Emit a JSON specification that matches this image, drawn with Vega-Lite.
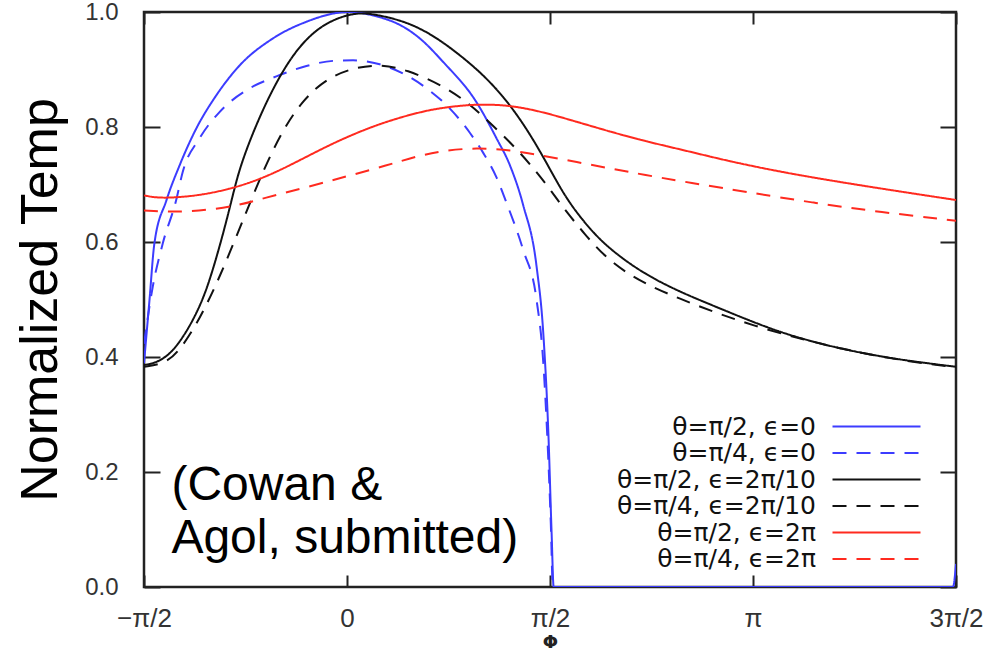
{
  "$schema": "https://vega.github.io/schema/vega-lite/v6.json",
  "width": 812,
  "height": 575,
  "autosize": {"type": "none"},
  "padding": {"left": 144, "top": 12, "right": 34, "bottom": 70},
  "background": "white",
  "config": {
    "view": {"stroke": "#222", "strokeWidth": 2.5},
    "axis": {"domain": false, "ticks": false, "grid": true, "gridColor": "#222", "gridWidth": 2, "gridOpacity": 1, "labelColor": "#333", "labelFont": "Liberation Sans", "labelFontSize": 24},
    "legend": {
      "orient": "none", "legendX": 720, "legendY": 402, "title": null, "padding": 0,
      "symbolType": "M-4,0H4", "symbolSize": 484, "symbolStrokeWidth": 2,
      "labelAlign": "right", "labelOffset": -73, "labelFont": "DejaVu Sans", "labelFontSize": 25, "labelColor": "#111", "labelLimit": 400,
      "rowPadding": 0.5
    }
  },
  "datasets": {
    "curves": [
      {"s": "θ=π/2, ϵ=0", "p": -0.5, "t": 0.389},
      {"s": "θ=π/2, ϵ=0", "p": -0.4865, "t": 0.499},
      {"s": "θ=π/2, ϵ=0", "p": -0.4745, "t": 0.597},
      {"s": "θ=π/2, ϵ=0", "p": -0.445, "t": 0.672},
      {"s": "θ=π/2, ϵ=0", "p": -0.4125, "t": 0.733},
      {"s": "θ=π/2, ϵ=0", "p": -0.3715, "t": 0.797},
      {"s": "θ=π/2, ϵ=0", "p": -0.322, "t": 0.855},
      {"s": "θ=π/2, ϵ=0", "p": -0.2645, "t": 0.907},
      {"s": "θ=π/2, ϵ=0", "p": -0.1825, "t": 0.954},
      {"s": "θ=π/2, ϵ=0", "p": -0.1, "t": 0.983},
      {"s": "θ=π/2, ϵ=0", "p": -0.018, "t": 0.999},
      {"s": "θ=π/2, ϵ=0", "p": 0.0065, "t": 1.0},
      {"s": "θ=π/2, ϵ=0", "p": 0.064, "t": 0.994},
      {"s": "θ=π/2, ϵ=0", "p": 0.1465, "t": 0.971},
      {"s": "θ=π/2, ϵ=0", "p": 0.1795, "t": 0.954},
      {"s": "θ=π/2, ϵ=0", "p": 0.237, "t": 0.913},
      {"s": "θ=π/2, ϵ=0", "p": 0.319, "t": 0.843},
      {"s": "θ=π/2, ϵ=0", "p": 0.3685, "t": 0.78},
      {"s": "θ=π/2, ϵ=0", "p": 0.4015, "t": 0.733},
      {"s": "θ=π/2, ϵ=0", "p": 0.434, "t": 0.664},
      {"s": "θ=π/2, ϵ=0", "p": 0.467, "t": 0.557},
      {"s": "θ=π/2, ϵ=0", "p": 0.4835, "t": 0.441},
      {"s": "θ=π/2, ϵ=0", "p": 0.496, "t": 0.267},
      {"s": "θ=π/2, ϵ=0", "p": 0.504, "t": 0.093},
      {"s": "θ=π/2, ϵ=0", "p": 0.509, "t": 0.0},
      {"s": "θ=π/2, ϵ=0", "p": 1.4925, "t": 0.0},
      {"s": "θ=π/2, ϵ=0", "p": 1.5, "t": 0.04},

      {"s": "θ=π/4, ϵ=0", "p": -0.5, "t": 0.423},
      {"s": "θ=π/4, ϵ=0", "p": -0.4785, "t": 0.522},
      {"s": "θ=π/4, ϵ=0", "p": -0.454, "t": 0.597},
      {"s": "θ=π/4, ϵ=0", "p": -0.421, "t": 0.672},
      {"s": "θ=π/4, ϵ=0", "p": -0.4045, "t": 0.722},
      {"s": "θ=π/4, ϵ=0", "p": -0.3635, "t": 0.78},
      {"s": "θ=π/4, ϵ=0", "p": -0.314, "t": 0.826},
      {"s": "θ=π/4, ϵ=0", "p": -0.24, "t": 0.867},
      {"s": "θ=π/4, ϵ=0", "p": -0.174, "t": 0.888},
      {"s": "θ=π/4, ϵ=0", "p": -0.1, "t": 0.906},
      {"s": "θ=π/4, ϵ=0", "p": -0.0345, "t": 0.915},
      {"s": "θ=π/4, ϵ=0", "p": 0.015, "t": 0.916},
      {"s": "θ=π/4, ϵ=0", "p": 0.0805, "t": 0.909},
      {"s": "θ=π/4, ϵ=0", "p": 0.1465, "t": 0.89},
      {"s": "θ=π/4, ϵ=0", "p": 0.204, "t": 0.863},
      {"s": "θ=π/4, ϵ=0", "p": 0.2535, "t": 0.832},
      {"s": "θ=π/4, ϵ=0", "p": 0.3025, "t": 0.79},
      {"s": "θ=π/4, ϵ=0", "p": 0.3355, "t": 0.755},
      {"s": "θ=π/4, ϵ=0", "p": 0.3685, "t": 0.712},
      {"s": "θ=π/4, ϵ=0", "p": 0.393, "t": 0.668},
      {"s": "θ=π/4, ϵ=0", "p": 0.434, "t": 0.586},
      {"s": "θ=π/4, ϵ=0", "p": 0.467, "t": 0.499},
      {"s": "θ=π/4, ϵ=0", "p": 0.4835, "t": 0.39},
      {"s": "θ=π/4, ϵ=0", "p": 0.493, "t": 0.267},
      {"s": "θ=π/4, ϵ=0", "p": 0.502, "t": 0.11},
      {"s": "θ=π/4, ϵ=0", "p": 0.507, "t": 0.0},
      {"s": "θ=π/4, ϵ=0", "p": 1.49, "t": 0.0},

      {"s": "θ=π/2, ϵ=2π/10", "p": -0.5, "t": 0.386},
      {"s": "θ=π/2, ϵ=2π/10", "p": -0.4745, "t": 0.389},
      {"s": "θ=π/2, ϵ=2π/10", "p": -0.4455, "t": 0.4},
      {"s": "θ=π/2, ϵ=2π/10", "p": -0.421, "t": 0.417},
      {"s": "θ=π/2, ϵ=2π/10", "p": -0.388, "t": 0.452},
      {"s": "θ=π/2, ϵ=2π/10", "p": -0.355, "t": 0.499},
      {"s": "θ=π/2, ϵ=2π/10", "p": -0.3305, "t": 0.551},
      {"s": "θ=π/2, ϵ=2π/10", "p": -0.306, "t": 0.612},
      {"s": "θ=π/2, ϵ=2π/10", "p": -0.285, "t": 0.67},
      {"s": "θ=π/2, ϵ=2π/10", "p": -0.2645, "t": 0.73},
      {"s": "θ=π/2, ϵ=2π/10", "p": -0.2235, "t": 0.805},
      {"s": "θ=π/2, ϵ=2π/10", "p": -0.1825, "t": 0.867},
      {"s": "θ=π/2, ϵ=2π/10", "p": -0.1415, "t": 0.917},
      {"s": "θ=π/2, ϵ=2π/10", "p": -0.1, "t": 0.954},
      {"s": "θ=π/2, ϵ=2π/10", "p": -0.051, "t": 0.982},
      {"s": "θ=π/2, ϵ=2π/10", "p": 0.015, "t": 0.999},
      {"s": "θ=π/2, ϵ=2π/10", "p": 0.064, "t": 0.997},
      {"s": "θ=π/2, ϵ=2π/10", "p": 0.13, "t": 0.986},
      {"s": "θ=π/2, ϵ=2π/10", "p": 0.1795, "t": 0.972},
      {"s": "θ=π/2, ϵ=2π/10", "p": 0.237, "t": 0.948},
      {"s": "θ=π/2, ϵ=2π/10", "p": 0.319, "t": 0.902},
      {"s": "θ=π/2, ϵ=2π/10", "p": 0.3685, "t": 0.866},
      {"s": "θ=π/2, ϵ=2π/10", "p": 0.4015, "t": 0.838},
      {"s": "θ=π/2, ϵ=2π/10", "p": 0.4425, "t": 0.797},
      {"s": "θ=π/2, ϵ=2π/10", "p": 0.4835, "t": 0.748},
      {"s": "θ=π/2, ϵ=2π/10", "p": 0.5165, "t": 0.705},
      {"s": "θ=π/2, ϵ=2π/10", "p": 0.5495, "t": 0.666},
      {"s": "θ=π/2, ϵ=2π/10", "p": 0.5985, "t": 0.622},
      {"s": "θ=π/2, ϵ=2π/10", "p": 0.648, "t": 0.587},
      {"s": "θ=π/2, ϵ=2π/10", "p": 0.73, "t": 0.545},
      {"s": "θ=π/2, ϵ=2π/10", "p": 0.8205, "t": 0.513},
      {"s": "θ=π/2, ϵ=2π/10", "p": 0.903, "t": 0.489},
      {"s": "θ=π/2, ϵ=2π/10", "p": 0.985, "t": 0.465},
      {"s": "θ=π/2, ϵ=2π/10", "p": 1.0675, "t": 0.443},
      {"s": "θ=π/2, ϵ=2π/10", "p": 1.1495, "t": 0.426},
      {"s": "θ=π/2, ϵ=2π/10", "p": 1.232, "t": 0.412},
      {"s": "θ=π/2, ϵ=2π/10", "p": 1.314, "t": 0.401},
      {"s": "θ=π/2, ϵ=2π/10", "p": 1.396, "t": 0.392},
      {"s": "θ=π/2, ϵ=2π/10", "p": 1.5, "t": 0.383},

      {"s": "θ=π/4, ϵ=2π/10", "p": -0.5, "t": 0.383},
      {"s": "θ=π/4, ϵ=2π/10", "p": -0.4455, "t": 0.389},
      {"s": "θ=π/4, ϵ=2π/10", "p": -0.4125, "t": 0.412},
      {"s": "θ=π/4, ϵ=2π/10", "p": -0.38, "t": 0.446},
      {"s": "θ=π/4, ϵ=2π/10", "p": -0.347, "t": 0.489},
      {"s": "θ=π/4, ϵ=2π/10", "p": -0.314, "t": 0.539},
      {"s": "θ=π/4, ϵ=2π/10", "p": -0.281, "t": 0.595},
      {"s": "θ=π/4, ϵ=2π/10", "p": -0.248, "t": 0.652},
      {"s": "θ=π/4, ϵ=2π/10", "p": -0.2275, "t": 0.688},
      {"s": "θ=π/4, ϵ=2π/10", "p": -0.199, "t": 0.735},
      {"s": "θ=π/4, ϵ=2π/10", "p": -0.158, "t": 0.795},
      {"s": "θ=π/4, ϵ=2π/10", "p": -0.1085, "t": 0.847},
      {"s": "θ=π/4, ϵ=2π/10", "p": -0.051, "t": 0.884},
      {"s": "θ=π/4, ϵ=2π/10", "p": 0.015, "t": 0.903},
      {"s": "θ=π/4, ϵ=2π/10", "p": 0.0805, "t": 0.909},
      {"s": "θ=π/4, ϵ=2π/10", "p": 0.1465, "t": 0.9},
      {"s": "θ=π/4, ϵ=2π/10", "p": 0.237, "t": 0.872},
      {"s": "θ=π/4, ϵ=2π/10", "p": 0.3025, "t": 0.84},
      {"s": "θ=π/4, ϵ=2π/10", "p": 0.36, "t": 0.802},
      {"s": "θ=π/4, ϵ=2π/10", "p": 0.418, "t": 0.762},
      {"s": "θ=π/4, ϵ=2π/10", "p": 0.467, "t": 0.722},
      {"s": "θ=π/4, ϵ=2π/10", "p": 0.508, "t": 0.684},
      {"s": "θ=π/4, ϵ=2π/10", "p": 0.5245, "t": 0.667},
      {"s": "θ=π/4, ϵ=2π/10", "p": 0.5865, "t": 0.612},
      {"s": "θ=π/4, ϵ=2π/10", "p": 0.648, "t": 0.565},
      {"s": "θ=π/4, ϵ=2π/10", "p": 0.73, "t": 0.528},
      {"s": "θ=π/4, ϵ=2π/10", "p": 0.8205, "t": 0.501},
      {"s": "θ=π/4, ϵ=2π/10", "p": 0.9195, "t": 0.474},
      {"s": "θ=π/4, ϵ=2π/10", "p": 1.026, "t": 0.449},
      {"s": "θ=π/4, ϵ=2π/10", "p": 1.133, "t": 0.429},
      {"s": "θ=π/4, ϵ=2π/10", "p": 1.232, "t": 0.412},
      {"s": "θ=π/4, ϵ=2π/10", "p": 1.355, "t": 0.395},
      {"s": "θ=π/4, ϵ=2π/10", "p": 1.5, "t": 0.382},

      {"s": "θ=π/2, ϵ=2π", "p": -0.5, "t": 0.681},
      {"s": "θ=π/2, ϵ=2π", "p": -0.47, "t": 0.677},
      {"s": "θ=π/2, ϵ=2π", "p": -0.429, "t": 0.677},
      {"s": "θ=π/2, ϵ=2π", "p": -0.3635, "t": 0.681},
      {"s": "θ=π/2, ϵ=2π", "p": -0.281, "t": 0.693},
      {"s": "θ=π/2, ϵ=2π", "p": -0.199, "t": 0.713},
      {"s": "θ=π/2, ϵ=2π", "p": -0.1165, "t": 0.742},
      {"s": "θ=π/2, ϵ=2π", "p": -0.0345, "t": 0.772},
      {"s": "θ=π/2, ϵ=2π", "p": 0.048, "t": 0.797},
      {"s": "θ=π/2, ϵ=2π", "p": 0.1135, "t": 0.813},
      {"s": "θ=π/2, ϵ=2π", "p": 0.1795, "t": 0.826},
      {"s": "θ=π/2, ϵ=2π", "p": 0.237, "t": 0.834},
      {"s": "θ=π/2, ϵ=2π", "p": 0.319, "t": 0.84},
      {"s": "θ=π/2, ϵ=2π", "p": 0.4015, "t": 0.838},
      {"s": "θ=π/2, ϵ=2π", "p": 0.4835, "t": 0.826},
      {"s": "θ=π/2, ϵ=2π", "p": 0.566, "t": 0.809},
      {"s": "θ=π/2, ϵ=2π", "p": 0.648, "t": 0.792},
      {"s": "θ=π/2, ϵ=2π", "p": 0.73, "t": 0.776},
      {"s": "θ=π/2, ϵ=2π", "p": 0.8455, "t": 0.757},
      {"s": "θ=π/2, ϵ=2π", "p": 0.944, "t": 0.74},
      {"s": "θ=π/2, ϵ=2π", "p": 1.0675, "t": 0.722},
      {"s": "θ=π/2, ϵ=2π", "p": 1.1905, "t": 0.707},
      {"s": "θ=π/2, ϵ=2π", "p": 1.314, "t": 0.693},
      {"s": "θ=π/2, ϵ=2π", "p": 1.5, "t": 0.673},

      {"s": "θ=π/4, ϵ=2π", "p": -0.5, "t": 0.655},
      {"s": "θ=π/4, ϵ=2π", "p": -0.429, "t": 0.652},
      {"s": "θ=π/4, ϵ=2π", "p": -0.347, "t": 0.655},
      {"s": "θ=π/4, ϵ=2π", "p": -0.2645, "t": 0.664},
      {"s": "θ=π/4, ϵ=2π", "p": -0.207, "t": 0.676},
      {"s": "θ=π/4, ϵ=2π", "p": -0.1, "t": 0.695},
      {"s": "θ=π/4, ϵ=2π", "p": -0.0015, "t": 0.714},
      {"s": "θ=π/4, ϵ=2π", "p": 0.097, "t": 0.733},
      {"s": "θ=π/4, ϵ=2π", "p": 0.171, "t": 0.749},
      {"s": "θ=π/4, ϵ=2π", "p": 0.237, "t": 0.759},
      {"s": "θ=π/4, ϵ=2π", "p": 0.319, "t": 0.764},
      {"s": "θ=π/4, ϵ=2π", "p": 0.4015, "t": 0.76},
      {"s": "θ=π/4, ϵ=2π", "p": 0.4835, "t": 0.75},
      {"s": "θ=π/4, ϵ=2π", "p": 0.566, "t": 0.739},
      {"s": "θ=π/4, ϵ=2π", "p": 0.648, "t": 0.728},
      {"s": "θ=π/4, ϵ=2π", "p": 0.73, "t": 0.717},
      {"s": "θ=π/4, ϵ=2π", "p": 0.8455, "t": 0.703},
      {"s": "θ=π/4, ϵ=2π", "p": 0.985, "t": 0.687},
      {"s": "θ=π/4, ϵ=2π", "p": 1.1495, "t": 0.668},
      {"s": "θ=π/4, ϵ=2π", "p": 1.314, "t": 0.652},
      {"s": "θ=π/4, ϵ=2π", "p": 1.5, "t": 0.637}
    ],
    "note": [
      {"p": -0.4325, "t": 0.151, "label": "(Cowan &\nAgol, submitted)"}
    ]
  },
  "layer": [
    {
      "data": {"name": "curves"},
      "transform": [{"filter": {"field": "s", "oneOf": ["θ=π/2, ϵ=0", "θ=π/4, ϵ=0"]}}],
      "mark": {"type": "line", "strokeWidth": 2, "interpolate": "monotone", "clip": true},
      "encoding": {
        "x": {
          "field": "p", "type": "quantitative",
          "scale": {"domain": [-0.5, 1.5], "nice": false, "zero": false},
          "axis": {
            "orient": "bottom", "values": [-0.5, 0, 0.5, 1, 1.5],
            "gridDash": [12, 551],
            "labelExpr": "datum.value == -0.5 ? '−π/2' : datum.value == 0 ? '0' : datum.value == 0.5 ? 'π/2' : datum.value == 1 ? 'π' : '3π/2'",
            "labelPadding": 18, "labelBaseline": "top", "labelFlush": false, "labelFontSize": 26,
            "title": "Φ", "titleFont": "DejaVu Sans", "titleFontSize": 18, "titleFontWeight": "bold", "titleColor": "#222", "titlePadding": 2
          }
        },
        "y": {
          "field": "t", "type": "quantitative",
          "scale": {"domain": [0, 1], "nice": false, "zero": false},
          "axis": {
            "orient": "left", "values": [0, 0.2, 0.4, 0.6, 0.8, 1], "format": ".1f",
            "gridDash": [16, 780],
            "labelPadding": 26, "labelFlush": false, "labelBaseline": "middle",
            "title": "Normalized Temp", "titleFont": "Liberation Sans", "titleFontSize": 52, "titleFontWeight": "normal", "titleColor": "#000",
            "titleAngle": -90, "titleX": -104, "titleY": 287.5, "titleAlign": "center", "titleBaseline": "middle"
          }
        },
        "color": {
          "field": "s", "type": "nominal",
          "scale": {
            "domain": ["θ=π/2, ϵ=0", "θ=π/4, ϵ=0", "θ=π/2, ϵ=2π/10", "θ=π/4, ϵ=2π/10", "θ=π/2, ϵ=2π", "θ=π/4, ϵ=2π"],
            "range": ["#3c3cff", "#3c3cff", "#111111", "#111111", "#ff2a1f", "#ff2a1f"]
          }
        },
        "strokeDash": {
          "field": "s", "type": "nominal",
          "scale": {
            "domain": ["θ=π/2, ϵ=0", "θ=π/4, ϵ=0", "θ=π/2, ϵ=2π/10", "θ=π/4, ϵ=2π/10", "θ=π/2, ϵ=2π", "θ=π/4, ϵ=2π"],
            "range": [[1, 0], [14, 10], [1, 0], [14, 10], [1, 0], [14, 10]]
          }
        }
      }
    },
    {
      "data": {"name": "curves"},
      "transform": [{"filter": {"field": "s", "oneOf": ["θ=π/2, ϵ=2π/10", "θ=π/4, ϵ=2π/10", "θ=π/2, ϵ=2π", "θ=π/4, ϵ=2π"]}}],
      "mark": {"type": "line", "strokeWidth": 2, "interpolate": "basis", "clip": true},
      "encoding": {
        "x": {"field": "p", "type": "quantitative", "axis": null},
        "y": {
          "field": "t", "type": "quantitative",
          "axis": {"orient": "left", "values": [0.05, 0.1, 0.15, 0.25, 0.3, 0.35, 0.45, 0.5, 0.55, 0.65, 0.7, 0.75, 0.85, 0.9, 0.95], "gridDash": [9, 794], "labels": false, "title": null}
        },
        "color": {"field": "s", "type": "nominal"},
        "strokeDash": {"field": "s", "type": "nominal"}
      }
    },
    {
      "data": {"name": "note"},
      "mark": {"type": "text", "align": "left", "baseline": "alphabetic", "font": "Liberation Sans", "fontSize": 48, "lineHeight": 53, "lineBreak": "\n", "color": "#000"},
      "encoding": {
        "x": {"field": "p", "type": "quantitative", "axis": null},
        "y": {"field": "t", "type": "quantitative", "axis": null},
        "text": {"field": "label"}
      }
    }
  ],
  "resolve": {"axis": {"x": "independent", "y": "independent"}}
}
